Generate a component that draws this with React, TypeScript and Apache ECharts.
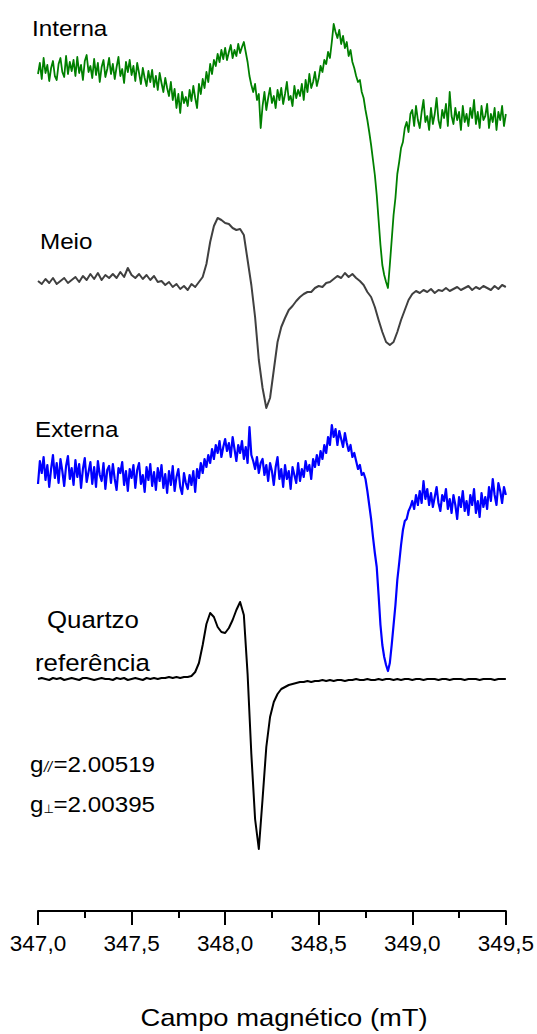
import React, { useEffect, useRef } from "react";
import * as echarts from "echarts";

// Magnetic field sweep (mT)
const FIELD_START = 347.0;
const X_TICKS = [347.0, 347.5, 348.0, 348.5, 349.0, 349.5];
const X_TICK_LABELS = ["347,0", "347,5", "348,0", "348,5", "349,0", "349,5"];

// EPR intensities (arbitrary units, up = positive)
// Interna and Externa sampled every 0.01 mT, Meio and Quartzo every 0.02 mT
const INTERNA = [
  -4, 7, -9, 12, -3, 5, -11, 2, 9, -6,
  -10, 6, 12, -2, -7, 14, -4, 8, -1, 10,
  -6, 13, -3, 5, -10, 9, 15, -2, 4, -8,
  11, -5, 7, -12, 3, 10, -7, 1, 12, -4,
  6, -9, 3, 13, -6, 1, -13, 8, -2, 10,
  -5, 4, -11, 7, -3, -14, 2, -8, -16, -1,
  -12, 0, -17, -6, -20, -3, -13, -22, -8, -18,
  -26, -12, -30, -19, -38, -24, -43, -22, -33, -27,
  -36, -20, -31, -16, -28, -38, -14, -24, -9, -18,
  -2, -12, 6, -4, 10, 4, 16, 8, 20, 11,
  22, 10, 18, 25, 12, 20, 14, 26, 17, 23,
  28, 18, 8, -6, -15, -22, -14, -30, -24, -58,
  -36, -22, -40, -28, -18, -33, -26, -38, -20, -30,
  -18, -34, -24, -12, -30, -26, -36, -16, -28, -20,
  -26, -14, -30, -10, -22, -4, -18, -12, -2, -16,
  -8, 4, -2, 10, 6, 18, 12, 28, 46, 38,
  32, 40, 26, 34, 22, 28, 14, 20, 8, 2,
  -6, -12, -10, -22, -28, -40, -50, -62, -75, -90,
  -105, -125, -150, -175, -195, -205, -212, -218, -195, -170,
  -145, -128, -104, -92, -78, -72, -58, -52, -62, -44,
  -40, -56, -36, -50, -58, -42, -30, -52, -46, -60,
  -38, -54, -44, -28, -50, -58, -40, -48, -34, -56,
  -22, -46, -54, -38, -50, -42, -60, -36, -52, -44,
  -56, -38, -48, -30, -54, -42, -58, -36, -50, -46,
  -34, -58, -44, -52, -38, -60, -42, -50, -36, -56,
  -44,
];

const MEIO = [
  -1, -4, 1, -3, 2, -4, -1, 2, -3, 0,
  3, -2, 4, 0, 6, 1, 7, 0, 5, 2,
  6, 2, 8, 3, 12, 5, 2, 6, 1, 5,
  0, 4, -2, -1, -5, -2, -7, -4, -9, -6,
  -10, -4, -7, -2, 3, 16, 38, 54, 62, 60,
  57, 56, 52, 50, 51, 45, 20, -5, -37, -80,
  -108, -128, -118, -90, -62, -47, -38, -30, -26, -21,
  -17, -14, -12, -12, -8, -6, -7, -3, -2, 1,
  4, 2, 7, 3, 6, 2, -1, -5, -12, -17,
  -27, -40, -52, -62, -65, -62, -52, -40, -30, -20,
  -14, -11, -13, -10, -12, -9, -13, -10, -11, -8,
  -11, -9, -7, -10, -8, -6, -10, -7, -9, -6,
  -8, -10, -6, -9, -5, -7,
];

const EXTERNA = [
  -9, 14, 2, 18, -5, 10, -12, 6, 20, -3,
  12, -8, 16, 4, -11, 9, 19, -4, 7, -10,
  15, -2, 11, -13, 6, 17, -7, 3, 13, -9,
  8, -12, 14, 0, -6, 12, -14, 5, 9, -8,
  11, -4, -15, 7, 2, 13, -10, 4, -16, 6,
  -3, 10, -13, 5, 12, -9, 0, -17, 8, -5,
  11, -11, 3, -15, 7, -6, 10, -13, 1, -18,
  4, -10, 9, -16, -2, 6, -12, -19, 2, -8,
  -14, 0, -10, 4, -17, 6, -3, 12, 2, 16,
  8, 20, 12, 26, 16, 30, 22, 34, 18, 28,
  36, 24, 32, 18, 38, 26, 14, 30, 22, 34,
  16, 28, 12, 48, 20, 14, 6, 18, 2, 12,
  16, 0, 10, -6, 12, 4, -10, 8, 18, -4,
  6, -12, 10, -4, 4, -14, 8, 0, -8, 12,
  -6, 6, -2, 14, 4, 10, -4, 16, 8, 20,
  10, 24, 16, 30, 22, 38, 30, 50, 38, 46,
  30, 44, 36, 28, 42, 32, 24, 30, 18, 22,
  14, 6, 10, 0, 2, -4, -16, -30, -44, -62,
  -78, -92, -120, -150, -170, -182, -190, -196, -188, -170,
  -150, -130, -105, -88, -70, -55, -46, -44, -36, -32,
  -26, -34, -20, -30, -16, -28, -6, -24, -14, -30,
  -18, -32, -22, -12, -28, -36, -20, -26, -14, -34,
  -24, -38, -20, -30, -44, -22, -32, -16, -36, -26,
  -40, -20, -30, -14, -38, -26, -42, -18, -32, -22,
  -34, -12, -26, -4, -20, -30, -8, -16, -28, -12,
  -20,
];

const QUARTZO = [
  0, 1, 0, -1, 1, 0, 1, -1, 0, 1,
  0, -1, 1, 1, 0, -1, 0, 1, 0, 0,
  -1, 1, 0, 1, -1, 0, 1, 0, -1, 1,
  0, 1, 0, 1, 1, 2, 1, 2, 1, 2,
  2, 3, 7, 16, 34, 55, 66, 62, 52, 47,
  46, 51, 59, 69, 77, 64, 5, -75, -140, -170,
  -120, -68, -38, -23, -15, -10, -8, -6, -5, -4,
  -3, -3, -2, -3, -2, -2, -1, -2, -1, -2,
  -1, -1, -2, -1, -1, 0, -1, -1, 0, -1,
  -1, 0, -1, 0, 0, -1, 0, -1, 0, 0,
  -1, 0, 0, -1, 0, 0, 0, -1, 0, 0,
  -1, 0, 0, 0, -1, 0, 0, 0, -1, 0,
  0, 0, -1, 0, 0, 0,
];

const SERIES_NAMES = ["Interna", "Meio", "Externa", "Quartzo referência"];
const SERIES_VALUES = [INTERNA, MEIO, EXTERNA, QUARTZO];
const SERIES_STEPS = [0.01, 0.02, 0.01, 0.02];
const SERIES_COLORS = ["#008000", "#404040", "#0000ff", "#000000"];
const SERIES_WIDTHS = [1.8, 2, 2.2, 2];
// vertical stacking offsets of each trace
const TRACE_OFFSETS = [70, 280, 475, 679];

const G_PAR = "2.00519";
const G_PERP = "2.00395";

const FONT = '"Liberation Sans", Arial, Helvetica, sans-serif';

export default function App() {
  const ref = useRef<HTMLDivElement>(null);

  useEffect(() => {
    document.body.style.margin = "0";
    if (!ref.current) return;
    const chart = echarts.init(ref.current, undefined, { renderer: "svg" });

    const series = SERIES_VALUES.map((vals, k) => ({
      name: SERIES_NAMES[k],
      type: "line",
      showSymbol: false,
      symbol: "none",
      silent: true,
      clip: false,
      lineStyle: { color: SERIES_COLORS[k], width: SERIES_WIDTHS[k], join: "round" },
      data: vals.map((v, i) => [
        +(FIELD_START + i * SERIES_STEPS[k]).toFixed(3),
        v - TRACE_OFFSETS[k],
      ]),
    }));

    const textEl = (
      text: string,
      x: number,
      y: number,
      size: number,
      opts: { scaleX?: number; italic?: boolean; family?: string; align?: string } = {}
    ) => ({
      type: "text",
      x,
      y,
      scaleX: opts.scaleX ?? 1.1,
      style: {
        text,
        fontSize: size,
        fontFamily: opts.family ?? FONT,
        fontStyle: opts.italic ? "italic" : "normal",
        fill: "#000",
        align: opts.align ?? "left",
        verticalAlign: "middle",
      },
    });

    chart.setOption({
      animation: false,
      grid: { left: 38, right: 27, top: 0, bottom: 123 },
      xAxis: {
        type: "value",
        min: X_TICKS[0],
        max: X_TICKS[X_TICKS.length - 1],
        interval: 0.5,
        axisLine: { show: true, onZero: false, lineStyle: { color: "#000", width: 2 } },
        axisTick: { show: true, length: 14, lineStyle: { color: "#000", width: 2 } },
        minorTick: { show: true, splitNumber: 2, length: 7, lineStyle: { color: "#000", width: 2 } },
        splitLine: { show: false },
        minorSplitLine: { show: false },
        axisLabel: {
          fontSize: 22.5,
          fontFamily: FONT,
          color: "#000",
          margin: 21,
          formatter: (v: number) => {
            const idx = Math.round((v - X_TICKS[0]) / 0.5);
            return X_TICK_LABELS[idx] ?? "";
          },
        },
      },
      yAxis: {
        type: "value",
        min: -911,
        max: 0,
        show: false,
        splitLine: { show: false },
      },
      series,
      graphic: [
        textEl("Interna", 32, 28, 22),
        textEl("Meio", 40, 241, 22),
        textEl("Externa", 35, 429, 22),
        textEl("Quartzo", 47, 620, 23.5),
        textEl("referência", 35, 663, 23.5),
        // g parallel
        textEl("g", 30, 764.5, 22),
        textEl("//", 44, 767, 14.5, { italic: true, scaleX: 1 }),
        textEl("=" + G_PAR, 53.5, 764.5, 22),
        // g perpendicular
        textEl("g", 30, 804, 22),
        textEl("⊥", 43.5, 808.5, 12, { scaleX: 1, family: '"DejaVu Sans", sans-serif' }),
        textEl("=" + G_PERP, 53.5, 804, 22),
        textEl("Campo magnético (mT)", 284, 1018, 24, { scaleX: 1.14, align: "center" }),
      ],
    });

    return () => chart.dispose();
  }, []);

  return <div ref={ref} style={{ width: 537, height: 1034 }} />;
}
